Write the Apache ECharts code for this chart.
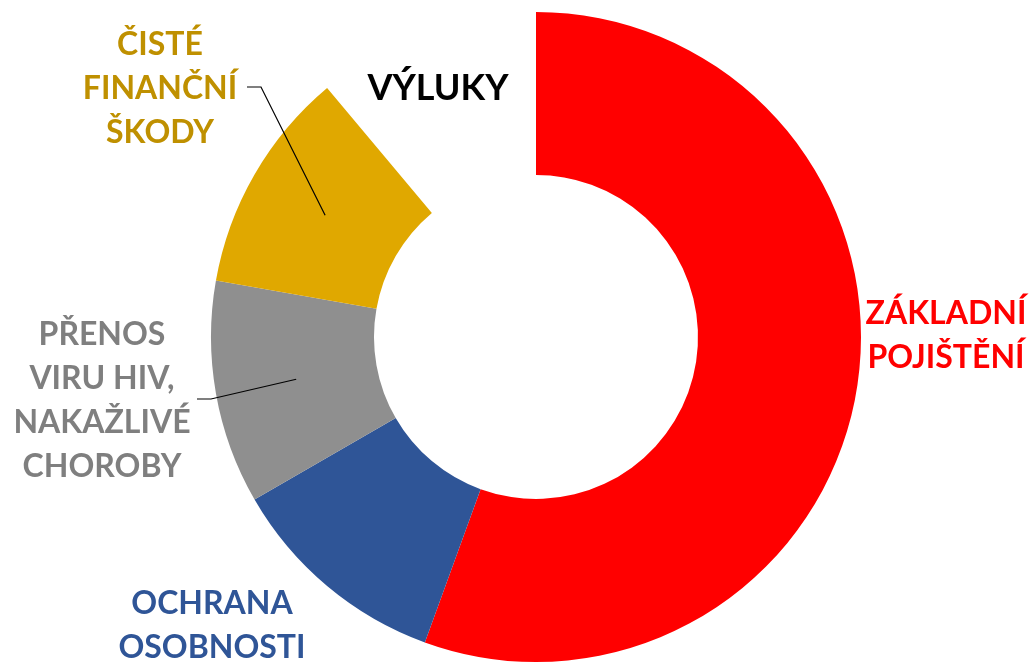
<!DOCTYPE html>
<html><head><meta charset="utf-8">
<script src="https://cdn.jsdelivr.net/npm/echarts@6/dist/echarts.min.js"></script>
<style>html,body{margin:0;padding:0;background:#fff}#c{width:1032px;height:664px}</style>
</head><body><div id="c"></div>
<script>
// ---- data ----
const categories = ['ZÁKLADNÍ\nPOJIŠTĚNÍ', 'OCHRANA\nOSOBNOSTI', 'PŘENOS\nVIRU HIV,\nNAKAŽLIVÉ\nCHOROBY', 'ČISTÉ\nFINANČNÍ\nŠKODY', 'VÝLUKY'];
const values = [5, 1, 1, 1, 1];

// ---- styling / layout (kept apart from data) ----
const sliceColors = ['#FF0000', '#2F5597', '#8F8F8F', '#E0A800', 'rgba(0,0,0,0)'];
const labelColors = ['#FF0000', '#2F5597', '#7F7F7F', '#BF9000', '#000000'];
const labelFontSizes = [32, 32, 32, 32, 36];
const labelCenters = [[946, 336], [212, 626], [102, 401], [160, 89], [438, 88]];
// leader line start (label side) for slices that have one
const leaderStarts = [null, null, [197, 399], [247, 87], null];

const CX = 536, CY = 337, R0 = 162, R1 = 325;

const chart = echarts.init(document.getElementById('c'), null, {renderer: 'canvas'});

const data = categories.map((name, i) => ({
  name: name,
  value: values[i],
  itemStyle: {color: sliceColors[i]},
  label: {color: labelColors[i], fontSize: labelFontSizes[i]}
}));

// leader lines: from label to the middle of the slice (mid angle, mid radius)
const total = values.reduce((a, b) => a + b, 0);
const leaders = [];
let acc = 0;
values.forEach((v, i) => {
  const mid = (acc + v / 2) / total * Math.PI * 2;
  acc += v;
  if (!leaderStarts[i]) return;
  const rm = (R0 + R1) / 2;
  const ax = CX + rm * Math.sin(mid);
  const ay = CY - rm * Math.cos(mid);
  const s = leaderStarts[i];
  leaders.push({
    type: 'polyline',
    z: 100,
    silent: true,
    shape: {points: [[s[0], s[1]], [s[0] + 14, s[1]], [ax, ay]]},
    style: {stroke: '#000000', lineWidth: 1.2, fill: null}
  });
});

chart.setOption({
  animation: false,
  backgroundColor: '#ffffff',
  graphic: leaders,
  series: [{
    type: 'pie',
    center: [CX, CY],
    radius: [R0, R1],
    startAngle: 90,
    clockwise: true,
    avoidLabelOverlap: false,
    silent: true,
    emphasis: {disabled: true, scale: false},
    itemStyle: {borderWidth: 0},
    label: {
      show: true,
      position: 'outside',
      formatter: '{b}',
      fontFamily: 'Lato',
      fontWeight: 'bold',
      lineHeight: 44,
      align: 'center'
    },
    labelLine: {show: false},
    labelLayout: function (p) {
      const c = labelCenters[p.dataIndex];
      return {x: c[0], y: c[1], align: 'center', verticalAlign: 'middle'};
    },
    data: data
  }]
});
</script>
</body></html>
